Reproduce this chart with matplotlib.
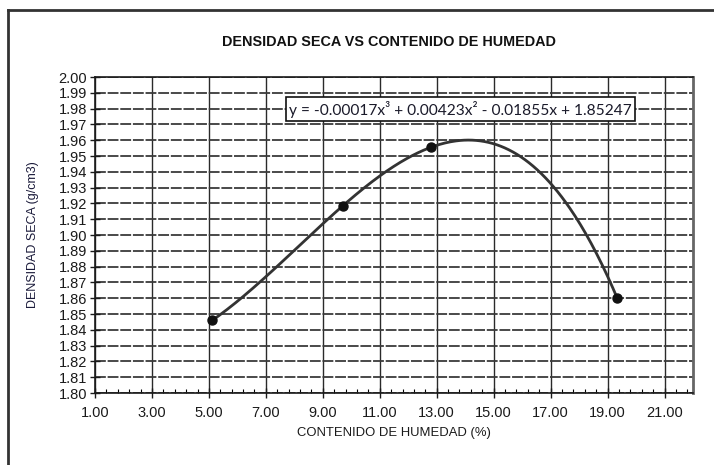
import numpy as np
import matplotlib
matplotlib.use("Agg")
import matplotlib.pyplot as plt
from matplotlib.ticker import FixedLocator, MultipleLocator, FormatStrFormatter
from matplotlib import font_manager as fm

# Data
humedad = [5.12, 9.71, 12.81, 19.33]
densidad = [1.846, 1.9186, 1.9556, 1.8604]
x_ticks = [1, 3, 5, 7, 9, 11, 13, 15, 17, 19, 21]
title = "DENSIDAD SECA VS CONTENIDO DE HUMEDAD"
xlabel = "CONTENIDO DE HUMEDAD (%)"
ylabel = "DENSIDAD SECA (g/cm3)"
equation = "y = -0.00017x³ + 0.00423x² - 0.01855x + 1.85247"

names = {f.name for f in fm.fontManager.ttflist}
narrow = "Liberation Sans Narrow" if "Liberation Sans Narrow" in names else "Liberation Sans"

fig = plt.figure(figsize=(7.14, 4.65), dpi=100)
ax = fig.add_axes([95/714, 1-393/465, (693-95)/714, (393-77)/465])

ax.set_xlim(1, 22)
ax.set_ylim(1.80, 2.00)
ax.xaxis.set_major_locator(FixedLocator(x_ticks))
ax.xaxis.set_minor_locator(MultipleLocator(0.4, offset=0.2))
ax.yaxis.set_major_locator(MultipleLocator(0.01))
ax.xaxis.set_major_formatter(FormatStrFormatter("%.2f"))
ax.yaxis.set_major_formatter(FormatStrFormatter("%.2f"))

ax.grid(True, which="major", axis="x", color="#2a2a2a", lw=1.0, linestyle="-")
ax.grid(True, which="major", axis="y", color="#3a3a3a", lw=1.3, linestyle=(0, (6, 1)))
ax.set_axisbelow(True)

ax.tick_params(axis="both", which="major", direction="inout", length=7, width=1.0,
               colors="#1a1a1a", labelsize=10.5, pad=2)
ax.tick_params(axis="x", which="minor", direction="in", length=3, width=0.8)
ax.tick_params(axis="x", which="major", pad=6)
for lab in ax.get_xticklabels() + ax.get_yticklabels():
    lab.set_family(narrow)
for s in ax.spines.values():
    s.set_linewidth(1.2)
    s.set_color("#1a1a1a")
ax.spines["right"].set_color("#666666")
ax.spines["right"].set_linewidth(2)

# Cubic trendline through the data
coef = np.polyfit(humedad, densidad, 3)
xs = np.linspace(min(humedad), max(humedad), 300)
ax.plot(xs, np.polyval(coef, xs), color="#333333", lw=2.0, zorder=3)
ax.plot(humedad, densidad, "o", color="#111111", ms=6.5, zorder=4)

ax.text(13.84, 1.9795, equation, ha="center", va="center", fontsize=11.2,
        family="Lato", color="#1a1a2a",
        bbox=dict(boxstyle="square,pad=0.22", fc="white", ec="#111111", lw=1.2), zorder=5)

ax.set_xlabel(xlabel, family=narrow, fontsize=9.4, color="#1a1a1a", labelpad=5)
ax.set_ylabel(ylabel, family=narrow, fontsize=9.0, color="#1a1a3a", labelpad=14)
fig.text(389/714, 1-42/465, title, ha="center", va="center", family=narrow,
         fontsize=10.4, fontweight="bold", color="#111111")

# outer chart frame
fig.add_artist(plt.Line2D([8/714, 8/714], [0, 1-10/465], transform=fig.transFigure,
                          color="#333333", lw=2))
fig.add_artist(plt.Line2D([8/714, 1], [1-10/465, 1-10/465], transform=fig.transFigure,
                          color="#333333", lw=2))

fig.savefig("out.png", dpi=100)
